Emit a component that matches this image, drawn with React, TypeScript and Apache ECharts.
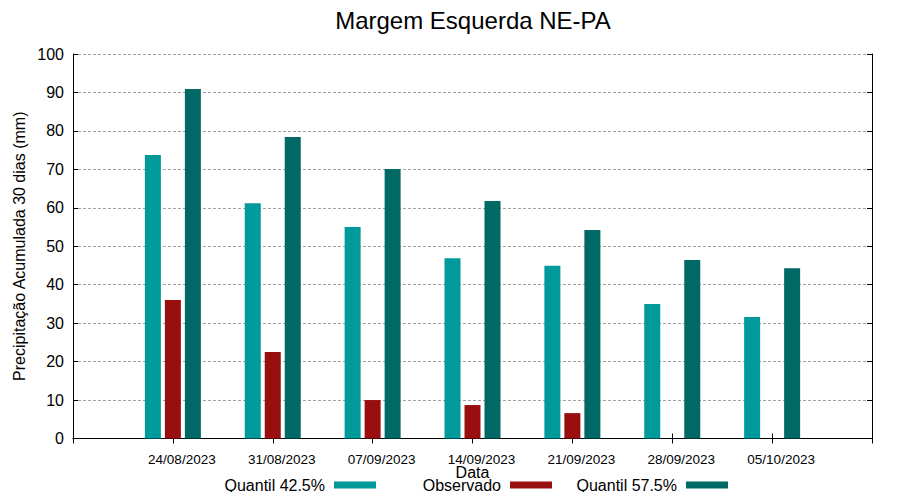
import React, { useEffect, useRef } from "react";
import * as echarts from "echarts";

const categories = ["", "24/08/2023", "31/08/2023", "07/09/2023", "14/09/2023", "21/09/2023", "28/09/2023", "05/10/2023", ""];
const quantil425 = [null, 73.7, 61.2, 55.0, 46.9, 44.9, 35.0, 31.6, null];
const observado = [null, 36.0, 22.5, 10.0, 8.7, 6.6, null, null, null];
const quantil575 = [null, 90.9, 78.4, 70.1, 61.8, 54.2, 46.4, 44.3, null];
const seriesNames = ["Quantil 42.5%", "Observado", "Quantil 57.5%"];
const colors = ["#009a9a", "#990e0e", "#006966"];

const FONT = "'Liberation Sans', Arial, sans-serif";

export default function App() {
  const ref = useRef<HTMLDivElement>(null);
  useEffect(() => {
    const chart = echarts.init(ref.current!, undefined, { renderer: "svg" });
    const legendRights = [524, 348, 172];
    chart.setOption({
      animation: false,
      title: {
        text: "Margem Esquerda NE-PA",
        left: 468,
        textAlign: "center",
        top: 3,
        textStyle: { fontFamily: FONT, fontSize: 24, fontWeight: "normal", color: "#000" },
      },
      legend: seriesNames.map((n, i) => ({
        data: [n],
        right: legendRights[i],
        top: 477,
        padding: 0,
        align: "right",
        itemWidth: 42,
        itemHeight: 7,
        icon: "rect",
        textStyle: { fontFamily: FONT, fontSize: 16, color: "#000", padding: [0, 4, 0, 0] },
      })),
      grid: { left: 73, right: 28, top: 54, bottom: 61.5 },
      xAxis: [
        {
          type: "category",
          data: categories,
          boundaryGap: false,
          name: "Data",
          nameLocation: "middle",
          nameGap: 26,
          nameMoveOverlap: false,
          nameTextStyle: { fontFamily: FONT, fontSize: 16, color: "#000" },
          axisLine: { lineStyle: { color: "#000", width: 1 } },
          axisTick: { inside: true, length: 5, lineStyle: { color: "#000" } },
          axisLabel: { fontFamily: FONT, fontSize: 13.5, color: "#000", margin: 14, padding: [0, 0, 0, 18], interval: 0 },
          splitLine: { show: false },
        },
        {
          type: "category",
          data: categories,
          boundaryGap: false,
          position: "top",
          axisLine: { lineStyle: { color: "#000", width: 1 } },
          axisTick: { inside: true, length: 5, lineStyle: { color: "#000" } },
          axisLabel: { show: false },
          splitLine: { show: false },
        },
      ],
      yAxis: [
        {
          type: "value",
          min: 0,
          max: 100,
          interval: 10,
          name: "Precipitação Acumulada 30 dias (mm)",
          nameLocation: "middle",
          nameGap: 46,
          nameMoveOverlap: false,
          nameTextStyle: { fontFamily: FONT, fontSize: 16, color: "#000" },
          axisLine: { show: true, lineStyle: { color: "#000", width: 1 } },
          axisTick: { show: true, inside: true, length: 5, lineStyle: { color: "#000" } },
          axisLabel: { fontFamily: FONT, fontSize: 16, color: "#000", margin: 9 },
          splitLine: { show: true, lineStyle: { color: "#a0a0a0", type: [3, 2], width: 1 } },
        },
        {
          type: "value",
          min: 0,
          max: 100,
          interval: 10,
          position: "right",
          axisLine: { show: true, lineStyle: { color: "#000", width: 1 } },
          axisTick: { show: true, inside: true, length: 5, lineStyle: { color: "#000" } },
          axisLabel: { show: false },
          splitLine: { show: false },
        },
      ],
      series: [
        { name: seriesNames[0], type: "bar", data: quantil425, barWidth: 16, barGap: "25%", itemStyle: { color: colors[0] } },
        { name: seriesNames[1], type: "bar", data: observado, barWidth: 16, barGap: "25%", itemStyle: { color: colors[1] } },
        { name: seriesNames[2], type: "bar", data: quantil575, barWidth: 16, barGap: "25%", itemStyle: { color: colors[2] } },
      ],
    });
    return () => chart.dispose();
  }, []);
  return <div ref={ref} style={{ width: 900, height: 500, margin: -8 }} />;
}
